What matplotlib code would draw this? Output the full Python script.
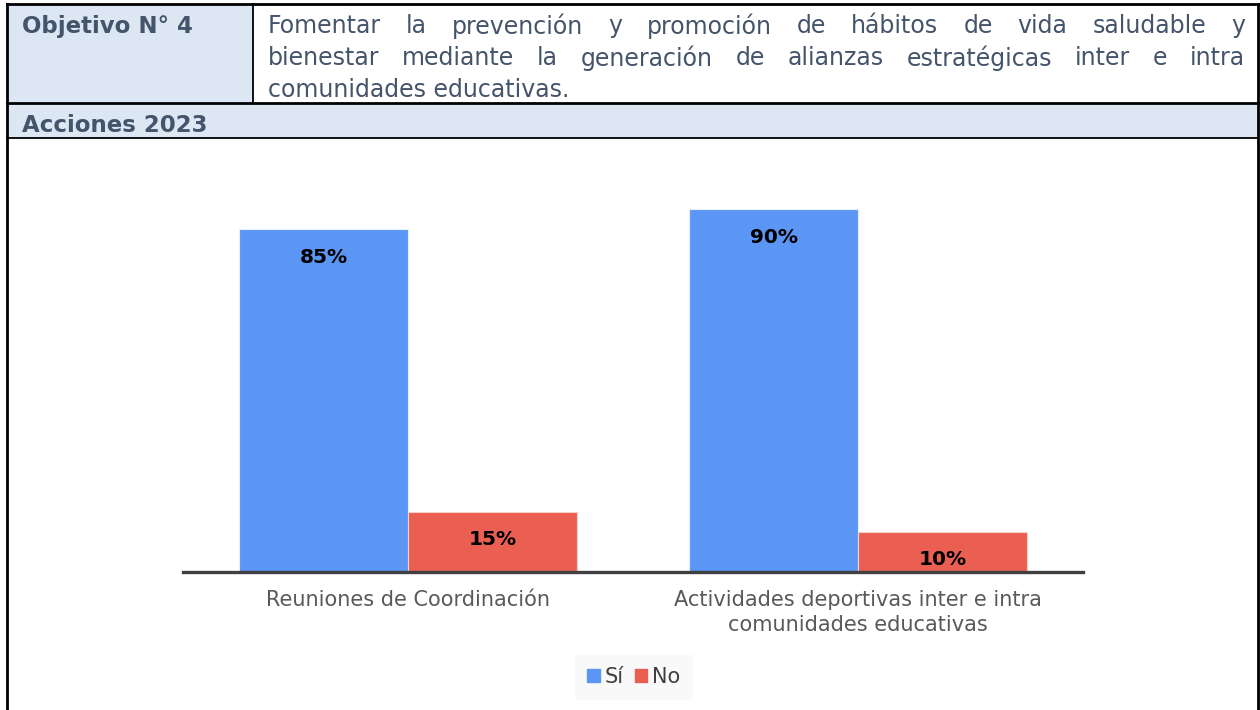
import matplotlib.pyplot as plt
from matplotlib.patches import Rectangle, Patch

# chart data
categories = ["Reuniones de Coordinación", "Actividades deportivas inter e intra\ncomunidades educativas"]
si_values = [85, 90]
no_values = [15, 10]
series_names = ["Sí", "No"]

# table texts
title_label = "Objetivo N° 4"
objective_lines = [
    "Fomentar la prevención y promoción de hábitos de vida saludable y",
    "bienestar mediante la generación de alianzas estratégicas inter e intra",
    "comunidades educativas.",
]
section_label = "Acciones 2023"

BLUE = "#5B96F5"
RED = "#EB5F53"
HEAD = "#DCE7F3"
INK = "#44546A"
plt.rcParams["font.family"] = ["DejaVu Sans"]

fig = plt.figure(figsize=(12.6, 7.1), dpi=100)

# table frame drawn in pixel coordinates
bg = fig.add_axes([0, 0, 1, 1])
bg.set_xlim(0, 1260)
bg.set_ylim(710, 0)
bg.axis("off")
bg.add_patch(Rectangle((7, 4), 246, 99, fc=HEAD, ec="none"))
bg.add_patch(Rectangle((7, 103), 1251, 35, fc=HEAD, ec="none"))
kw = dict(color="black", lw=2)
bg.plot([7, 1258], [4, 4], **kw)
bg.plot([7, 1258], [103, 103], **kw)
bg.plot([7, 1258], [138, 138], color="black", lw=1.3)
bg.plot([7, 7], [4, 710], **kw)
bg.plot([1258, 1258], [4, 710], **kw)
bg.plot([253, 253], [4, 103], color="black", lw=1.3)

bg.text(22, 26, title_label, fontsize=16.5, fontweight="bold", color=INK, va="center")
bg.text(22, 125, section_label, fontsize=16.5, fontweight="bold", color=INK, va="center")

renderer = fig.canvas.get_renderer()
x0, x1 = 268, 1245
for i, line in enumerate(objective_lines):
    y = 26 + i * 32
    words = line.split()
    if i == len(objective_lines) - 1:
        bg.text(x0, y, line, fontsize=17, color=INK, va="center")
        continue
    objs = [bg.text(0, y, w, fontsize=17, color=INK, va="center") for w in words]
    widths = [o.get_window_extent(renderer).width for o in objs]
    gap = (x1 - x0 - sum(widths)) / (len(words) - 1)
    x = x0
    for o, wd in zip(objs, widths):
        o.set_x(x)
        x += wd + gap

# bar chart
ax = fig.add_axes([183 / 1260, 138 / 710, 900 / 1260, 403 / 710])
xs = list(range(len(categories)))
w = 0.375
b1 = ax.bar([x - w / 2 for x in xs], si_values, w, color=BLUE, edgecolor="#E8F0FE", lw=0.8, label=series_names[0])
b2 = ax.bar([x + w / 2 for x in xs], no_values, w, color=RED, edgecolor="#F8D0CC", lw=0.8, label=series_names[1])
for bars, vals in [(b1, si_values), (b2, no_values)]:
    for r, v in zip(bars, vals):
        ax.annotate(f"{v}%", (r.get_x() + r.get_width() / 2, v), xytext=(0, -28),
                    textcoords="offset pixels", ha="center", va="center",
                    fontsize=14.5, fontweight="bold", color="black")
ax.set_xlim(-0.5, 1.5)
ax.set_ylim(0, 100)
ax.set_yticks([])
ax.set_xticks(xs)
ax.set_xticklabels(categories, fontsize=15, color="#595959", linespacing=1.3)
ax.tick_params(axis="x", length=0, pad=13)
for s in ["top", "left", "right"]:
    ax.spines[s].set_visible(False)
ax.spines["bottom"].set_color("#404040")
ax.spines["bottom"].set_linewidth(2.4)
ax.patch.set_alpha(0)

handles = [Patch(color=BLUE), Patch(color=RED)]
leg = fig.legend(handles, series_names, loc="center", bbox_to_anchor=(634 / 1260, 1 - 677 / 710),
                 ncol=2, fontsize=15, frameon=True, handlelength=0.6, handleheight=0.6,
                 handletextpad=0.25, columnspacing=0.5, labelcolor="#404040")
leg.get_frame().set_facecolor("#F8F8F8")
leg.get_frame().set_edgecolor("none")
leg.get_frame().set_boxstyle("square", pad=0.2)

fig.savefig("out.png", dpi=100)
